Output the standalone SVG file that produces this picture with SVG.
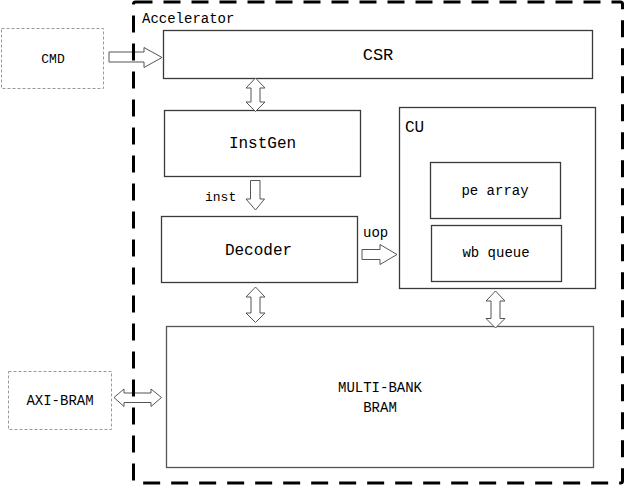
<svg xmlns="http://www.w3.org/2000/svg" width="626" height="486" viewBox="0 0 626 486">
<style>
.box{fill:#fff;stroke:#3a3a3a;stroke-width:1.3}
.ext{fill:#fff;stroke:#999;stroke-width:1;stroke-dasharray:3 2}
.arr{fill:#fff;stroke:#555;stroke-width:1}
.t{font-family:"Liberation Mono",monospace;fill:#000}
.m{text-anchor:middle}
</style>
<rect width="626" height="486" fill="#fff"/>
<g id="CMD"><rect class="ext" x="1.5" y="28.5" width="102" height="60"/><text class="t m" x="53" y="63" font-size="13">CMD</text></g>
<g id="AXI-BRAM"><rect class="ext" x="8.5" y="371.5" width="103" height="58"/><text class="t m" x="60" y="405" font-size="14">AXI-BRAM</text></g>
<g id="CSR"><rect class="box" x="163.5" y="30.5" width="429" height="48"/><text class="t m" x="378" y="60" font-size="17">CSR</text></g>
<g id="InstGen"><rect class="box" x="164.5" y="110.5" width="196" height="66"/><text class="t m" x="262.5" y="148" font-size="16">InstGen</text></g>
<g id="Decoder"><rect class="box" x="161.5" y="216.5" width="196" height="66"/><text class="t m" x="258.5" y="255" font-size="16">Decoder</text></g>
<g id="CU"><rect class="box" x="399.5" y="107.5" width="196" height="181"/><text class="t" x="405" y="132" font-size="16">CU</text>
<g id="pe-array"><rect class="box" x="430.5" y="162.5" width="130" height="56"/><text class="t m" x="495" y="195" font-size="14">pe array</text></g>
<g id="wb-queue"><rect class="box" x="431.5" y="225.5" width="130" height="56"/><text class="t m" x="496" y="257" font-size="14">wb queue</text></g>
</g>
<g id="MULTI-BANK-BRAM"><rect class="box" x="166.5" y="326.5" width="427" height="141" style="stroke:#555"/><text class="t m" x="380" y="392" font-size="14">MULTI-BANK</text><text class="t m" x="380" y="412" font-size="14">BRAM</text></g>
<g id="connectors">
<polygon class="arr" points="109,52 144,52 144,47.5 162,57.5 144,67.5 144,62 109,62"/>
<polygon class="arr" points="255.5,78 265,88 260,88 260,102 265,102 255.5,111.5 246,102 251,102 251,88 246,88"/>
<polygon class="arr" points="250.5,180.5 260,180.5 260,199 264.5,199 255.5,210 246,199 250.5,199"/>
<polygon class="arr" points="255.5,287 265,297 260,297 260,313 265,313 255.5,322.5 246,313 251,313 251,297 246,297"/>
<polygon class="arr" points="495.5,291 505,301 500,301 500,318.5 505,318.5 495.5,328 486,318.5 491,318.5 491,301 486,301"/>
<polygon class="arr" points="362,249.5 380,249.5 380,244.5 397,254.5 380,264.5 380,259.5 362,259.5"/>
<polygon class="arr" points="114,397.5 124,389 124,393 151,393 151,389 161.5,397.5 151,406.5 151,402.5 124,402.5 124,406.5"/>
<text class="t" x="205" y="201" font-size="13">inst</text>
<text class="t" x="363" y="237" font-size="14">uop</text>
</g>
<g id="Accelerator"><rect x="133.5" y="2" width="489" height="481" fill="none" stroke="#000" stroke-width="3" stroke-dasharray="17 11" rx="2"/><text class="t" x="142" y="23" font-size="14">Accelerator</text></g>
</svg>
